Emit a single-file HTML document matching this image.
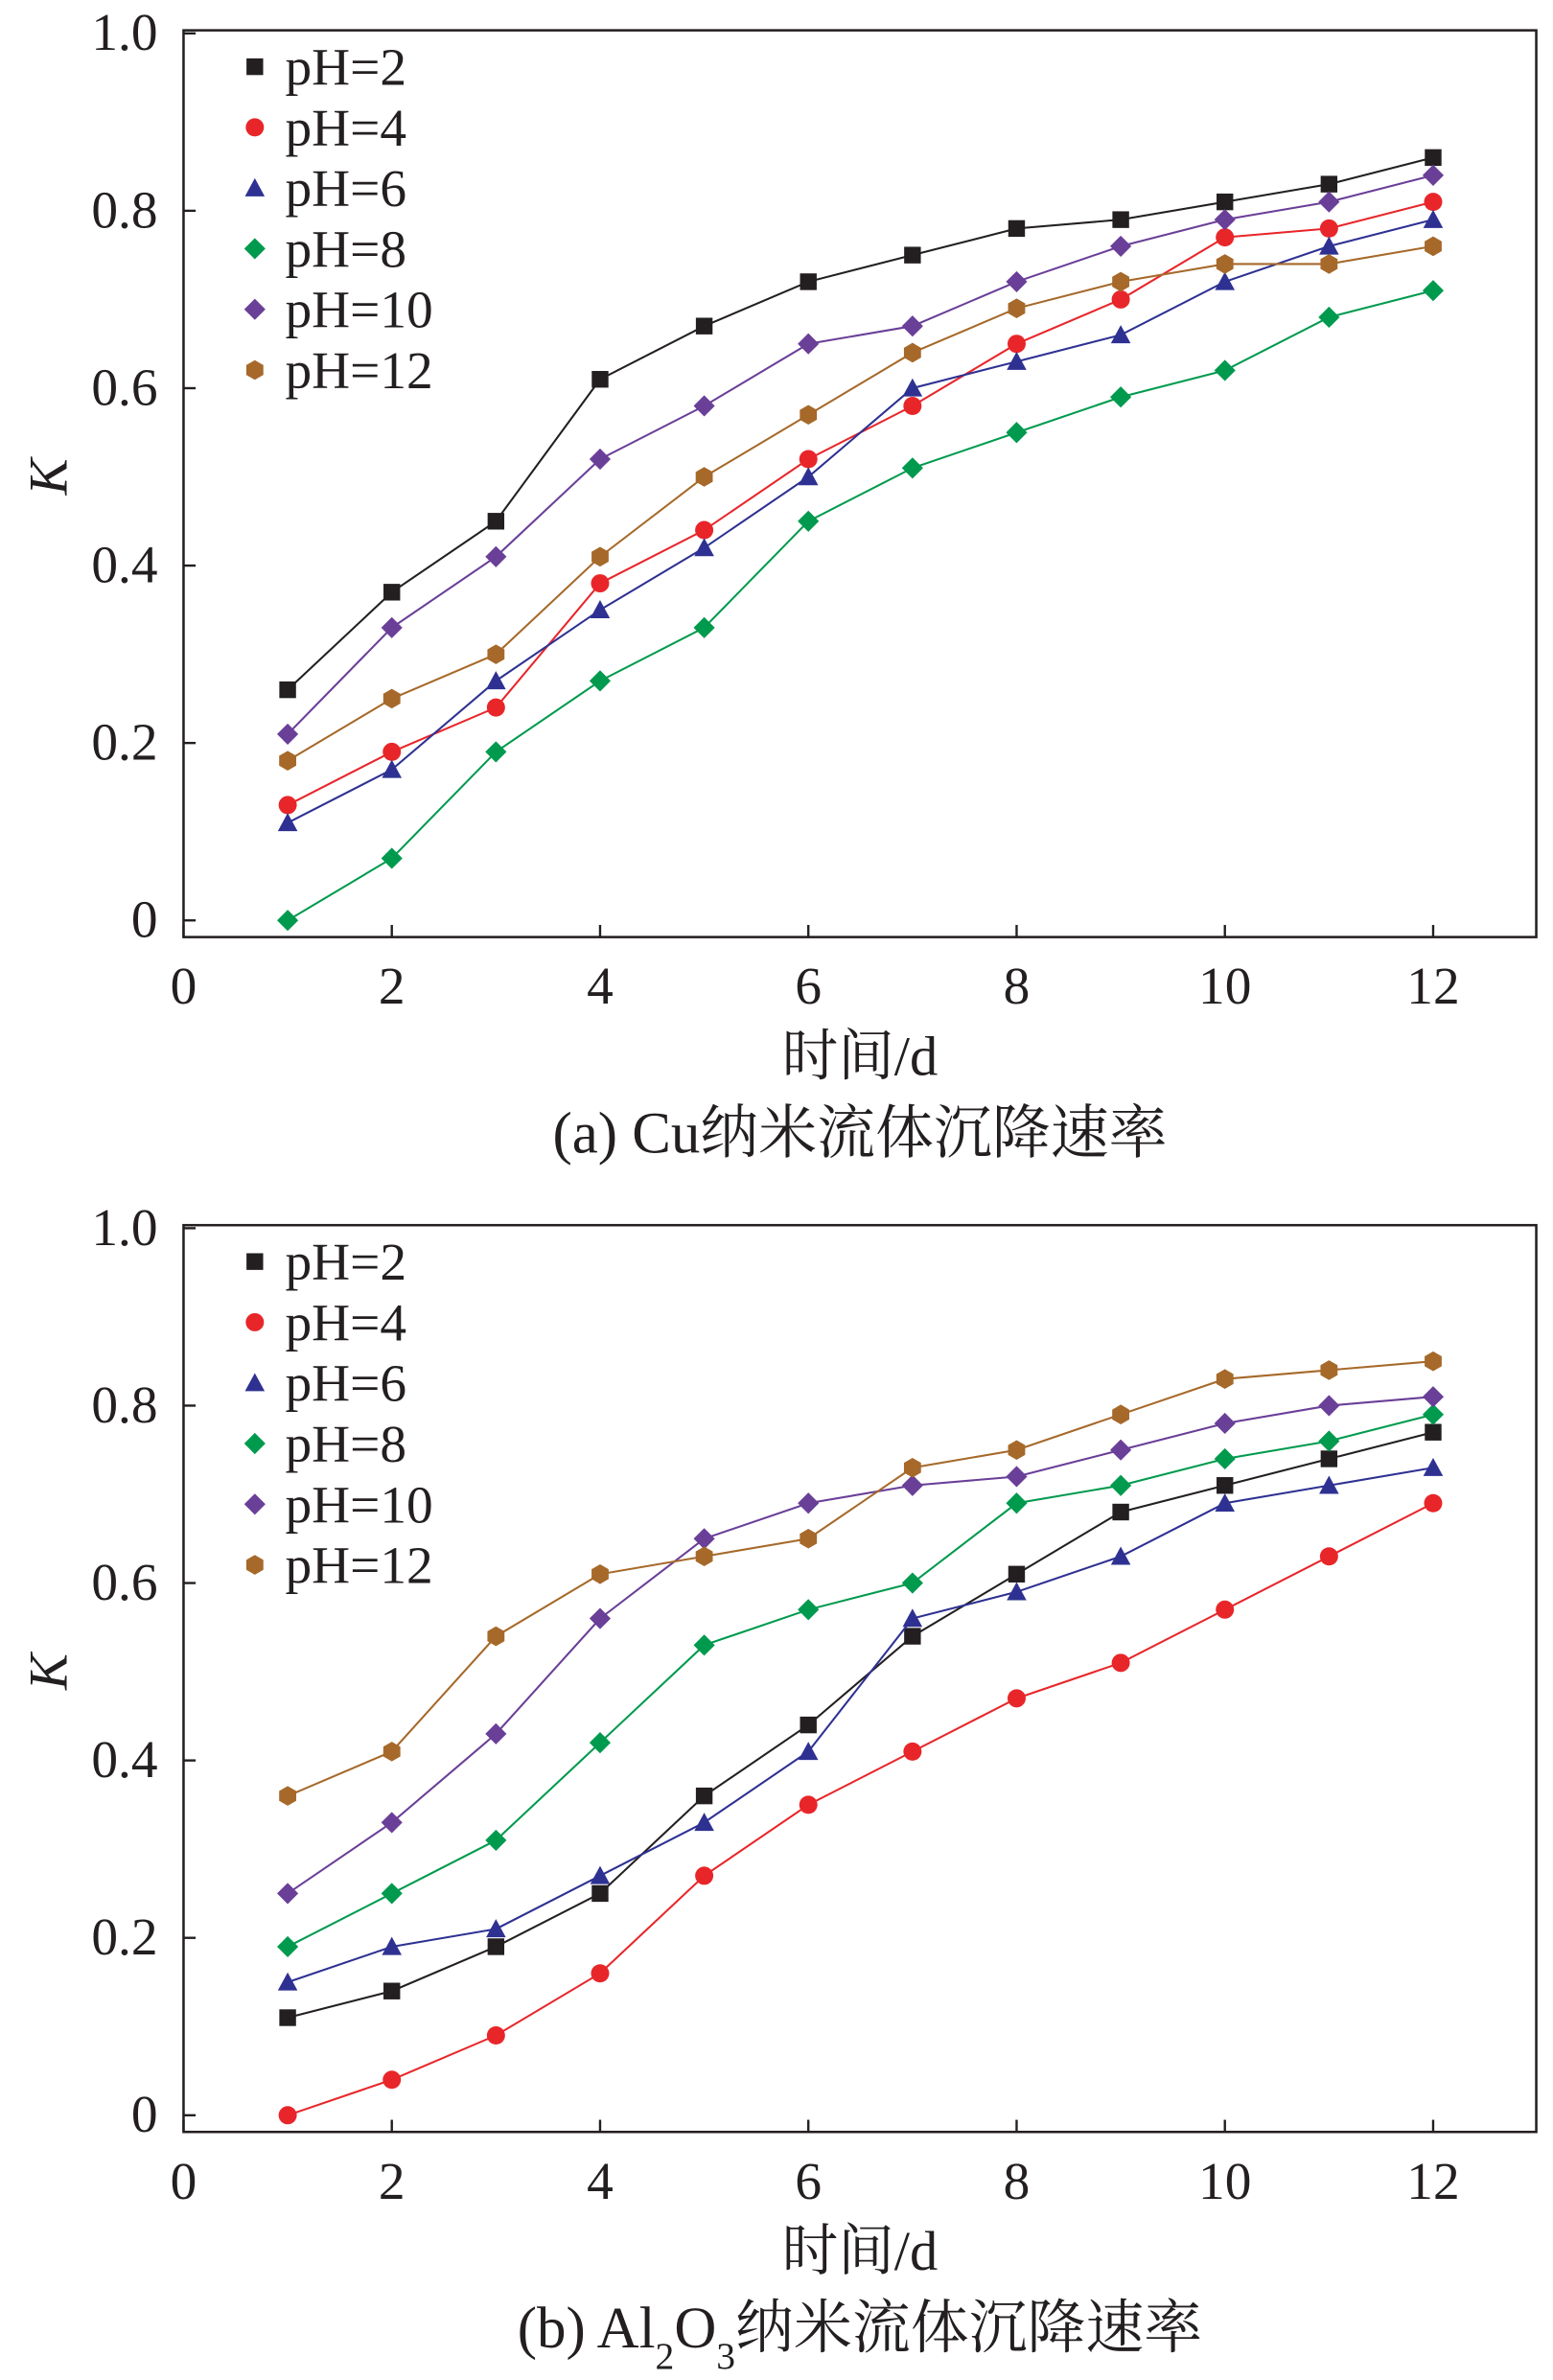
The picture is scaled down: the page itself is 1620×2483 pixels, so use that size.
<!DOCTYPE html>
<html><head><meta charset="utf-8"><style>
html,body{margin:0;padding:0;background:#fff;}
svg{display:block;}
text{font-family:"Liberation Serif","Noto Serif CJK SC",serif;fill:#231f20;}
</style></head><body>
<svg id="fig" width="1620" height="2483" viewBox="0 0 1024 1569.6" xmlns="http://www.w3.org/2000/svg"></svg>
<script>
const categories=[1,2,3,4,5,6,7,8,9,10,11,12];
const seriesNames=["pH=2","pH=4","pH=6","pH=8","pH=10","pH=12"];
const xTicks=[0,2,4,6,8,10,12];
const yTicks=[0,0.2,0.4,0.6,0.8,1.0];
const yTickLabels=["0","0.2","0.4","0.6","0.8","1.0"];
const cuPH2=[0.26,0.37,0.45,0.61,0.67,0.72,0.75,0.78,0.79,0.81,0.83,0.86];
const cuPH4=[0.13,0.19,0.24,0.38,0.44,0.52,0.58,0.65,0.70,0.77,0.78,0.81];
const cuPH6=[0.11,0.17,0.27,0.35,0.42,0.50,0.60,0.63,0.66,0.72,0.76,0.79];
const cuPH8=[0.00,0.07,0.19,0.27,0.33,0.45,0.51,0.55,0.59,0.62,0.68,0.71];
const cuPH10=[0.21,0.33,0.41,0.52,0.58,0.65,0.67,0.72,0.76,0.79,0.81,0.84];
const cuPH12=[0.18,0.25,0.30,0.41,0.50,0.57,0.64,0.69,0.72,0.74,0.74,0.76];
const alPH2=[0.11,0.14,0.19,0.25,0.36,0.44,0.54,0.61,0.68,0.71,0.74,0.77];
const alPH4=[0.00,0.04,0.09,0.16,0.27,0.35,0.41,0.47,0.51,0.57,0.63,0.69];
const alPH6=[0.15,0.19,0.21,0.27,0.33,0.41,0.56,0.59,0.63,0.69,0.71,0.73];
const alPH8=[0.19,0.25,0.31,0.42,0.53,0.57,0.60,0.69,0.71,0.74,0.76,0.79];
const alPH10=[0.25,0.33,0.43,0.56,0.65,0.69,0.71,0.72,0.75,0.78,0.80,0.81];
const alPH12=[0.36,0.41,0.54,0.61,0.63,0.65,0.73,0.75,0.79,0.83,0.84,0.85];

const colors=["#231f20","#e8262a","#2e3192","#009a4e","#6a3f98","#a6692a"];
const shapes=["square","circle","triangle","diamond","diamond","hexagon"];
const NS="http://www.w3.org/2000/svg";
const svg=document.getElementById('fig');
function el(tag,attrs,parent){const e=document.createElementNS(NS,tag);for(const k in attrs)e.setAttribute(k,attrs[k]);(parent||svg).appendChild(e);return e;}
function marker(shape,cx,cy,color,g){
  const s=5.5;let e;
  if(shape==="square")e=el('rect',{x:cx-s,y:cy-s,width:2*s,height:2*s,fill:color},g);
  else if(shape==="circle")e=el('circle',{cx:cx,cy:cy,r:s+0.5,fill:color},g);
  else if(shape==="triangle")e=el('polygon',{points:`${cx},${cy-s-1} ${cx+s+1},${cy+s} ${cx-s-1},${cy+s}`,fill:color},g);
  else if(shape==="diamond")e=el('polygon',{points:`${cx},${cy-s-1.5} ${cx+s+1.5},${cy} ${cx},${cy+s+1.5} ${cx-s-1.5},${cy}`,fill:color},g);
  else {let p=[];for(let i=0;i<6;i++){const a=Math.PI/3*i+Math.PI/6;p.push((cx+(s+1)*Math.cos(a))+","+(cy+(s+1)*Math.sin(a)));}e=el('polygon',{points:p.join(' '),fill:color},g);}
  return e;
}
function chart(name,top,data,caption){
  const left=121,right=1013,y1=top+2,y0=top+587,boxTop=top,boxBot=top+598;
  const xs=v=>left+v*(945-left)/12;
  const ys=v=>y0-v*(y0-y1);
  const g=el('g',{});
  
  
  const box=el('rect',{x:left,y:boxTop,width:right-left,height:boxBot-boxTop,fill:'none',stroke:'#231f20','stroke-width':1.6},g);
  
  xTicks.forEach(v=>{
    el('line',{x1:xs(v),x2:xs(v),y1:boxBot,y2:boxBot-8,stroke:'#231f20','stroke-width':1.5},g);
    const t=el('text',{x:xs(v),y:boxBot+44,'font-size':35,'text-anchor':'middle'},g);t.textContent=v;
    
  });
  yTicks.forEach((v,i)=>{
    el('line',{x1:left,x2:left+8,y1:ys(v),y2:ys(v),stroke:'#231f20','stroke-width':1.5},g);
    const t=el('text',{x:104,y:ys(v)+11,'font-size':35,'text-anchor':'end'},g);t.textContent=yTickLabels[i];
    
  });
  const yl=el('text',{x:0,y:0,'font-size':36,'font-style':'italic','text-anchor':'middle',transform:`translate(44,${(y0+y1)/2}) rotate(-90)`},g);yl.textContent='K';
  
  const xl=el('text',{x:567,y:boxBot+91,'font-size':37,'text-anchor':'middle'},g);xl.textContent='时间/d';
  
  const cap=el('text',{x:567,y:boxBot+142,'font-size':38.5,'text-anchor':'middle'},g);cap.innerHTML=caption;
  
  data.forEach((vals,si)=>{
    const sg=el('g',{},g);
    
    
    const pts=vals.map((v,i)=>xs(categories[i])+","+ys(v)).join(' ');
    el('polyline',{points:pts,fill:'none',stroke:colors[si],'stroke-width':1.3},sg);
    vals.forEach((v,i)=>{const m=marker(shapes[si],xs(categories[i]),ys(v),colors[si],sg);
      });
    const ly=top+24+si*40;
    const lg=el('g',{},g);
    
    
    marker(shapes[si],168,ly,colors[si],lg);
    const lt=el('text',{x:188,y:ly+12,'font-size':35},lg);lt.textContent=seriesNames[si];
  });
}
chart('chart-cu',20,[cuPH2,cuPH4,cuPH6,cuPH8,cuPH10,cuPH12],'(a) Cu纳米流体沉降速率');
chart('chart-al2o3',808,[alPH2,alPH4,alPH6,alPH8,alPH10,alPH12],'(b) Al<tspan baseline-shift="sub" font-size="25">2</tspan>O<tspan baseline-shift="sub" font-size="25">3</tspan>纳米流体沉降速率');
</script>
</body></html>
